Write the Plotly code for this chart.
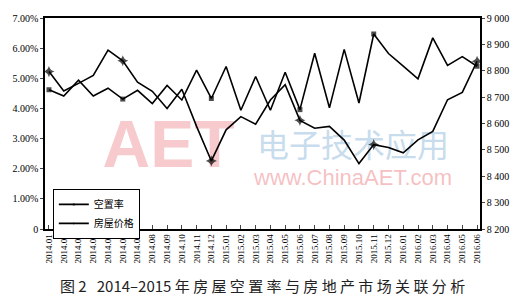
import plotly.graph_objects as go

months = ["2014.01","2014.02","2014.03","2014.04","2014.05","2014.06","2014.07","2014.08","2014.09","2014.10",
          "2014.11","2014.12","2015.01","2015.02","2015.03","2015.04","2015.05","2015.06","2015.07","2015.08",
          "2015.09","2015.10","2015.11","2015.12","2016.01","2016.02","2016.03","2016.04","2016.05","2016.06"]
vacancy = [4.62,4.41,4.94,4.41,4.67,4.31,4.60,4.16,4.76,4.28,
           5.27,4.33,5.39,3.94,5.06,3.94,5.20,3.96,5.83,4.02,
           5.96,4.18,6.47,5.82,5.40,4.98,6.34,5.43,5.72,5.40]
price = [8797,8723,8752,8782,8878,8838,8757,8722,8657,8730,
         8589,8458,8576,8626,8597,8689,8747,8612,8582,8589,
         8537,8448,8520,8509,8489,8538,8570,8690,8718,8836]
marker_idx = [0,5,11,17,22,29]
left_ticks = [0,1,2,3,4,5,6,7]
left_text = ["0","1.00%","2.00%","3.00%","4.00%","5.00%","6.00%","7.00%"]
right_ticks = [8200,8300,8400,8500,8600,8700,8800,8900,9000]
right_text = ["8 200","8 300","8 400","8 500","8 600","8 700","8 800","8 900","9 000"]

n = len(months)
xs = list(range(n))
sq_sizes = [5 if i in marker_idx else 0 for i in xs]
st_sizes = [8 if i in marker_idx else 0 for i in xs]

fig = go.Figure()
# watermark (drawn first, below data)
fig.add_trace(go.Scatter(x=[8.1], y=[2.6], mode="text", text=["<b>AET</b>"], showlegend=False, hoverinfo="skip",
                         textfont=dict(family="Liberation Sans", size=66, color="rgba(240,150,155,0.5)")))
fig.add_trace(go.Scatter(x=[20.6], y=[2.65], mode="text", text=["电子技术应用"], showlegend=False, hoverinfo="skip",
                         textfont=dict(family="Noto Sans CJK SC", size=32, color="rgba(150,190,220,0.55)")))
fig.add_trace(go.Scatter(x=[20.6], y=[1.65], mode="text", text=["www.ChinaAET.com"], showlegend=False, hoverinfo="skip",
                         textfont=dict(family="Liberation Sans", size=22, color="rgba(240,150,155,0.6)")))

fig.add_trace(go.Scatter(x=xs, y=vacancy, name="空置率", mode="lines+markers",
                         line=dict(color="black", width=1.6),
                         marker=dict(symbol="square", size=sq_sizes, color="black", line=dict(width=0))))
fig.add_trace(go.Scatter(x=xs, y=price, name="房屋价格", mode="lines+markers", yaxis="y2",
                         line=dict(color="black", width=1.6),
                         marker=dict(symbol="star-diamond", size=st_sizes, color="black", line=dict(width=0))))

fig.update_layout(
    width=521, height=306,
    margin=dict(l=43, r=39, t=15, b=77),
    paper_bgcolor="white", plot_bgcolor="white",
    font=dict(family="Liberation Serif", color="black"),
    xaxis=dict(range=[-0.27, 29.2], tickmode="array", tickvals=xs, ticktext=months,
               tickangle=-90, tickfont=dict(size=9), ticks="inside", ticklen=4,
               showline=True, linecolor="black", linewidth=1.5, mirror=True,
               showgrid=False, zeroline=False),
    yaxis=dict(range=[0, 7], tickmode="array", tickvals=left_ticks, ticktext=left_text,
               tickfont=dict(size=10), ticks="outside", ticklen=3,
               showline=True, linecolor="black", linewidth=1.5,
               showgrid=False, zeroline=False),
    yaxis2=dict(range=[8200, 9000], overlaying="y", side="right", tickmode="array",
                tickvals=right_ticks, ticktext=right_text, tickfont=dict(size=10),
                ticks="outside", ticklen=3, showline=True, linecolor="black", linewidth=1.5,
                showgrid=False, zeroline=False),
    legend=dict(x=0.018, y=0.19, xanchor="left", yanchor="top", bgcolor="white",
                bordercolor="black", borderwidth=1,
                font=dict(family="Noto Sans CJK SC", size=10), tracegroupgap=0,
                itemwidth=30),
    annotations=[dict(text="图 2   2014–2015 年 房 屋 空 置 率 与 房 地 产 市 场 关 联 分 析",
                      xref="paper", yref="paper", x=0.5, y=-0.267, yanchor="middle", xanchor="center",
                      showarrow=False, font=dict(family="Noto Sans CJK SC", size=15, color="#222"))],
)
fig.write_html("out.html")
